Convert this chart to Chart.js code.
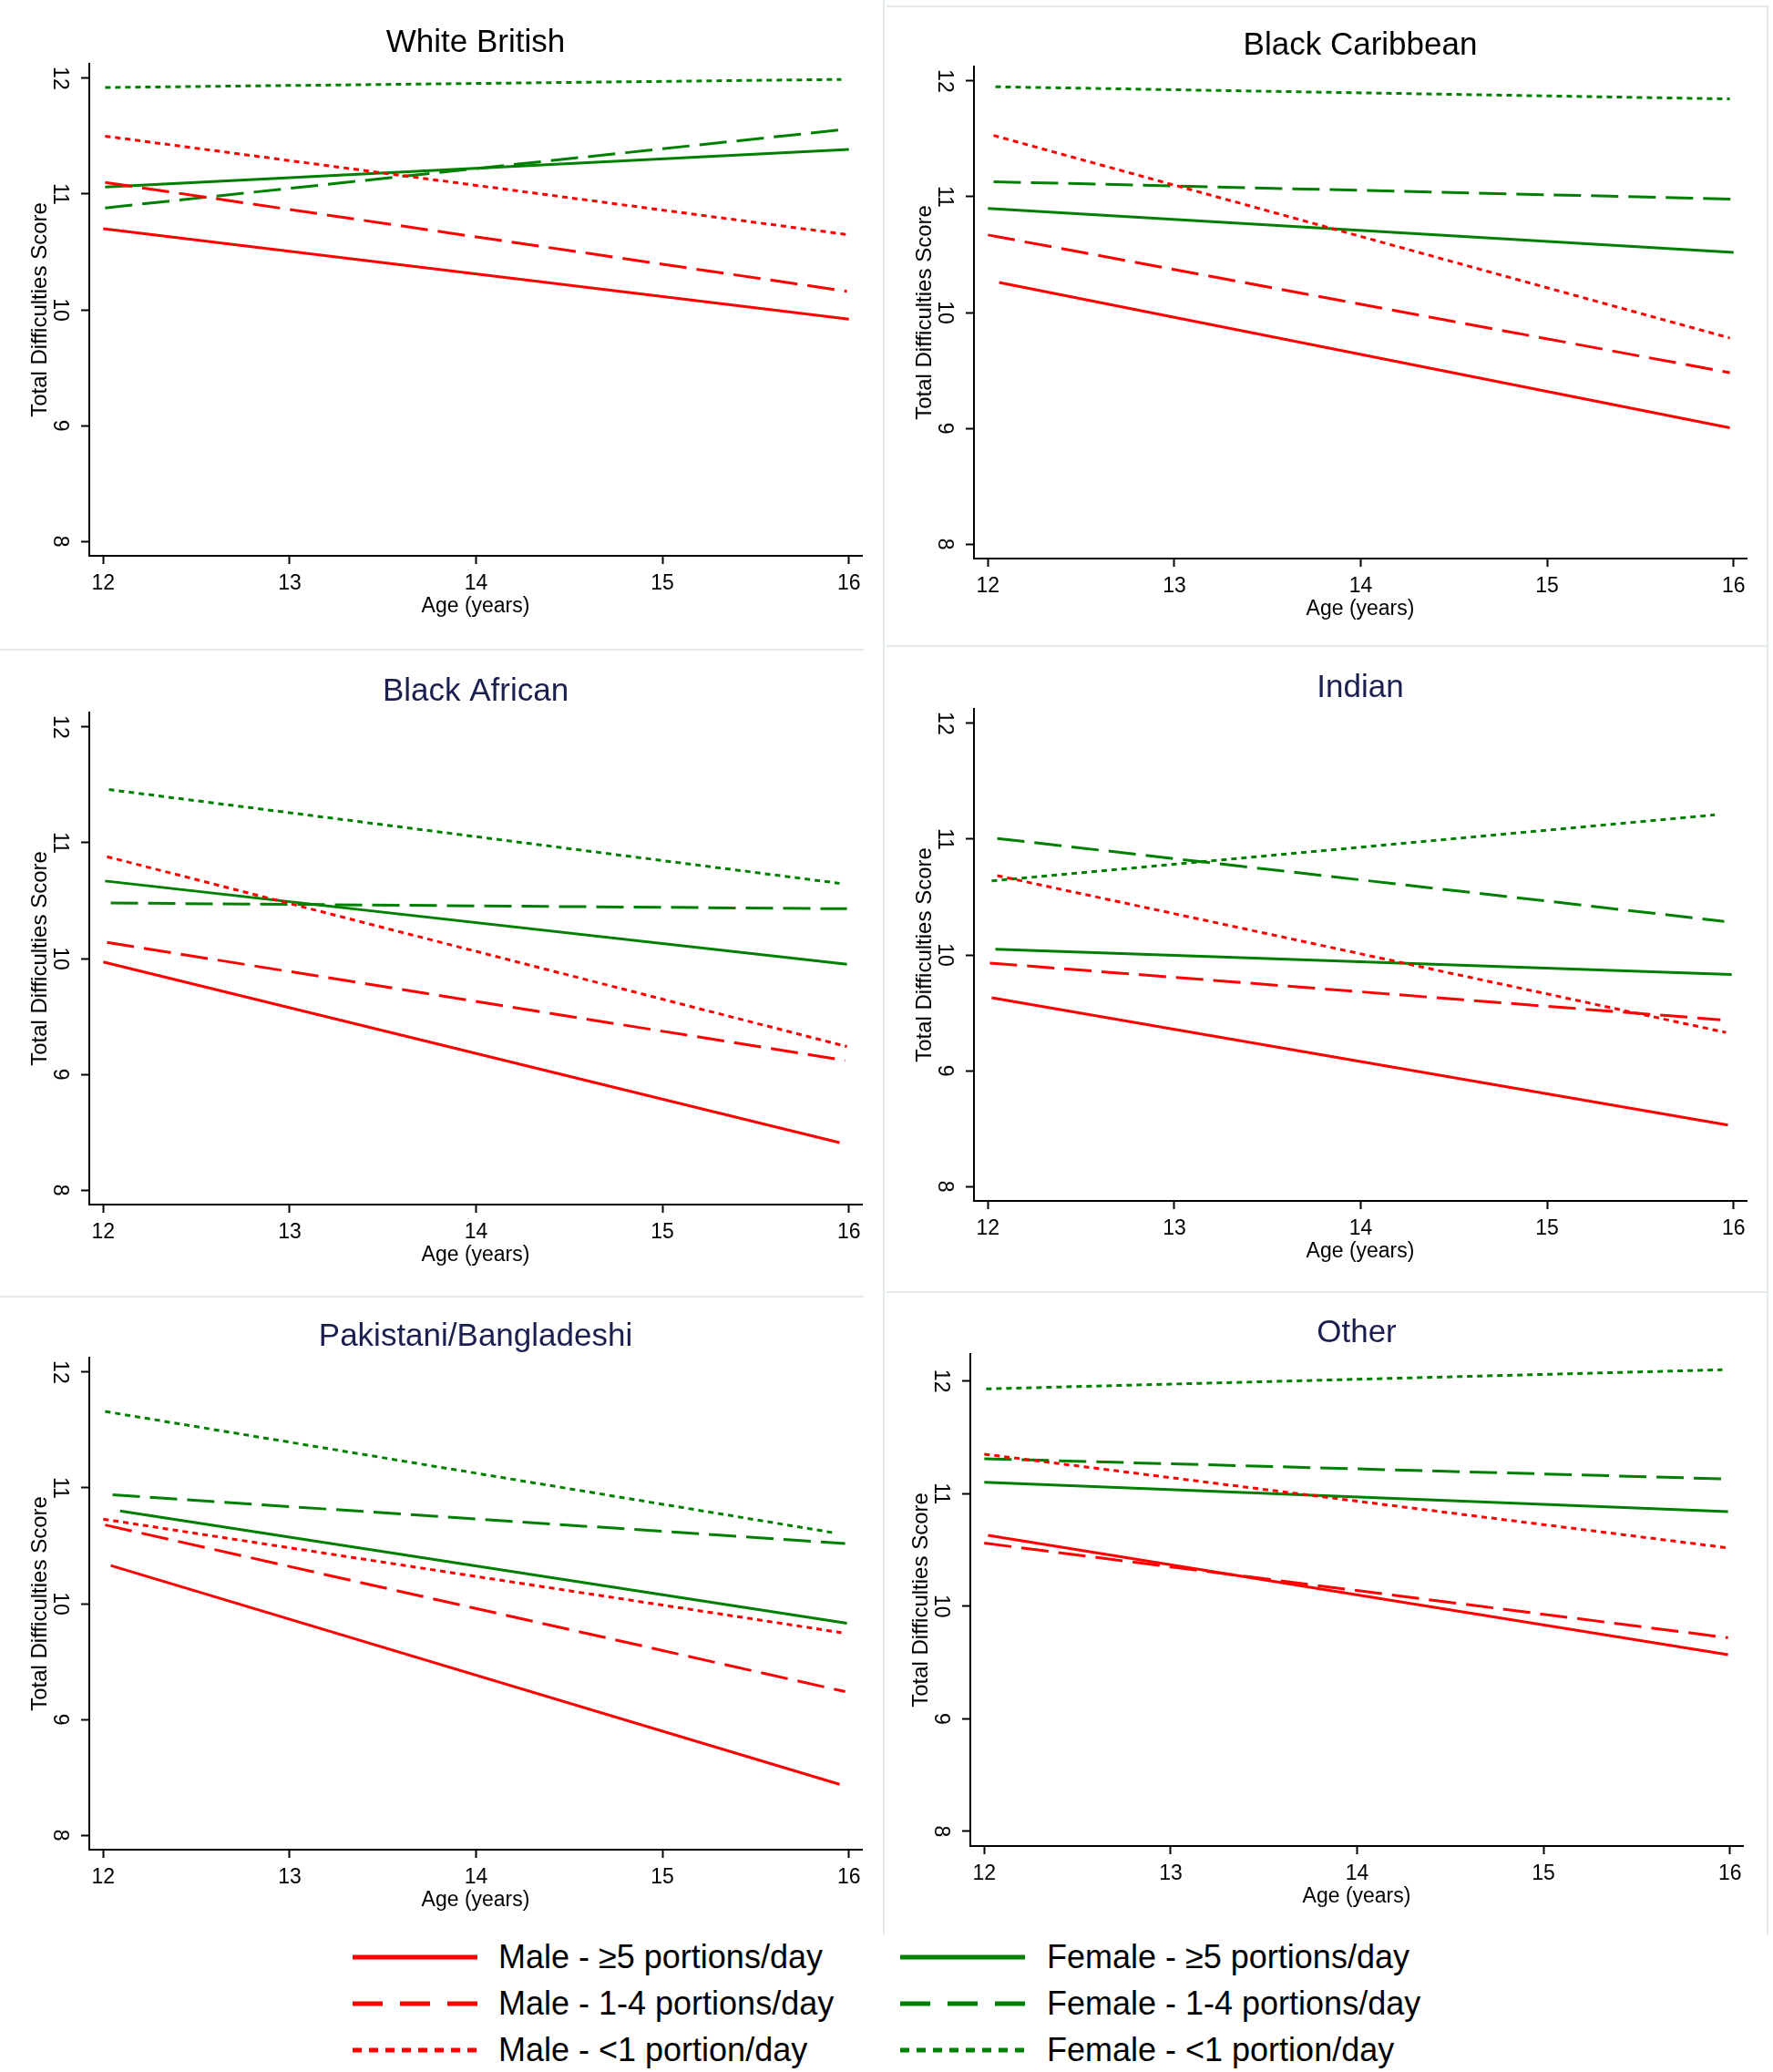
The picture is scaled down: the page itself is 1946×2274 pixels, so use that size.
<!DOCTYPE html>
<html>
<head>
<meta charset="utf-8">
<script src="https://cdn.jsdelivr.net/npm/chart.js@4.4.1/dist/chart.umd.min.js"></script>
<style>
  html, body { margin: 0; padding: 0; background: #ffffff; }
  #page { position: relative; width: 1946px; height: 2274px; background: #ffffff; overflow: hidden;
          font-family: 'Liberation Sans', Arial, Helvetica, sans-serif; }
  .panel { position: absolute; }
  .sep { position: absolute; background: #e3eceb; }
  .lg-text { position: absolute; font-size: 36px; line-height: 40px; height: 40px; color: #000; white-space: nowrap; }
  .lg-line { position: absolute; }
</style>
</head>
<body>
<div id="page"></div>
<script>
// ---------- DATA ----------
const panelTitles = ['White British', 'Black Caribbean', 'Black African', 'Indian', 'Pakistani/Bangladeshi', 'Other'];
const seriesNames = ['Male - ≥5 portions/day', 'Male - 1-4 portions/day', 'Male - <1 portion/day',
                     'Female - ≥5 portions/day', 'Female - 1-4 portions/day', 'Female - <1 portion/day'];
const xTickValues = [12, 13, 14, 15, 16];
const yTickValues = [8, 9, 10, 11, 12];
const xAxisTitle = 'Age (years)';
const yAxisTitle = 'Total Difficulties Score';

// Fitted lines: age where each line starts / ends and the score there (order = seriesNames)
const whiteBritishAgeFrom   = [12.00, 12.01, 12.01, 12.01, 12.01, 12.01];
const whiteBritishAgeTo     = [16.00, 15.99, 15.99, 16.00, 15.99, 15.96];
const whiteBritishScoreFrom = [10.70, 11.10, 11.50, 11.06, 10.88, 11.92];
const whiteBritishScoreTo   = [9.92, 10.16, 10.65, 11.385, 11.56, 11.99];

const blackCaribbeanAgeFrom   = [12.06, 12.00, 12.03, 12.00, 12.03, 12.04];
const blackCaribbeanAgeTo     = [15.98, 15.98, 15.98, 16.00, 15.99, 15.98];
const blackCaribbeanScoreFrom = [10.26, 10.67, 11.53, 10.90, 11.13, 11.95];
const blackCaribbeanScoreTo   = [9.005, 9.48, 9.78, 10.52, 10.98, 11.845];

const blackAfricanAgeFrom   = [12.00, 12.02, 12.02, 12.01, 12.04, 12.03];
const blackAfricanAgeTo     = [15.95, 15.98, 15.99, 15.99, 15.99, 15.95];
const blackAfricanScoreFrom = [9.97, 10.14, 10.88, 10.67, 10.48, 11.46];
const blackAfricanScoreTo   = [8.41, 9.12, 9.24, 9.95, 10.43, 10.65];

const indianAgeFrom   = [12.02, 12.01, 12.05, 12.04, 12.05, 12.02];
const indianAgeTo     = [15.97, 15.93, 15.96, 15.99, 15.95, 15.90];
const indianScoreFrom = [9.63, 9.93, 10.685, 10.05, 11.006, 10.64];
const indianScoreTo   = [8.53, 9.44, 9.33, 9.83, 10.29, 11.21];

const pakBangAgeFrom   = [12.04, 12.01, 12.00, 12.09, 12.05, 12.01];
const pakBangAgeTo     = [15.95, 15.98, 15.96, 15.99, 15.98, 15.91];
const pakBangScoreFrom = [10.33, 10.68, 10.73, 10.80, 10.94, 11.66];
const pakBangScoreTo   = [8.44, 9.24, 9.75, 9.83, 10.52, 10.615];

const otherAgeFrom   = [12.02, 12.00, 12.00, 12.00, 12.00, 12.01];
const otherAgeTo     = [15.99, 15.99, 15.98, 15.99, 15.99, 15.96];
const otherScoreFrom = [10.63, 10.56, 11.35, 11.10, 11.31, 11.93];
const otherScoreTo   = [9.57, 9.72, 10.52, 10.84, 11.13, 12.10];

const ageFromByPanel   = [whiteBritishAgeFrom, blackCaribbeanAgeFrom, blackAfricanAgeFrom, indianAgeFrom, pakBangAgeFrom, otherAgeFrom];
const ageToByPanel     = [whiteBritishAgeTo, blackCaribbeanAgeTo, blackAfricanAgeTo, indianAgeTo, pakBangAgeTo, otherAgeTo];
const scoreFromByPanel = [whiteBritishScoreFrom, blackCaribbeanScoreFrom, blackAfricanScoreFrom, indianScoreFrom, pakBangScoreFrom, otherScoreFrom];
const scoreToByPanel   = [whiteBritishScoreTo, blackCaribbeanScoreTo, blackAfricanScoreTo, indianScoreTo, pakBangScoreTo, otherScoreTo];

// Axis ranges per panel
const yMinByPanel = [7.875, 7.875, 7.875, 7.875, 7.875, 7.87];
const yMaxByPanel = [12.125, 12.125, 12.125, 12.125, 12.125, 12.24];
const xMin = 11.925, xMax = 16.07;

// ---------- LAYOUT / STYLE ----------
const FONT = "'Liberation Sans', Arial, Helvetica, sans-serif";
const plotOrigins = [[98, 70], [1069, 73], [98, 782], [1069, 778], [98, 1490], [1065, 1486]];
const PLOT_W = 848, PLOT_H = 540, Y_W = 98, TOP_H = 70, X_H = 80, RIGHT_PAD = 20;
const titleColors = ['#000000', '#000000', '#1b1f4f', '#1b1f4f', '#1b1f4f', '#1b1f4f'];
const RED = '#ff0000', GREEN = '#008000';
const seriesColors = [RED, RED, RED, GREEN, GREEN, GREEN];
const seriesDash = [[], [30, 11], [6, 5], [], [30, 11], [6, 5]];
const legendDash = [[], [33, 19], [10, 8], [], [33, 19], [10, 8]];

Chart.defaults.font.family = FONT;
Chart.defaults.color = '#000';

const page = document.getElementById('page');

// faint panel separators
[
  [969, 0, 2, 2123], [0, 712, 948, 2], [973, 708, 967, 2], [973, 6, 967, 2],
  [1939, 6, 2, 2117], [0, 1422, 948, 2], [973, 1417, 967, 2]
].forEach(([l, t, w, h]) => {
  const d = document.createElement('div');
  d.className = 'sep';
  d.style.left = l + 'px'; d.style.top = t + 'px'; d.style.width = w + 'px'; d.style.height = h + 'px';
  page.appendChild(d);
});

panelTitles.forEach((title, p) => {
  const [pl, pt] = plotOrigins[p];
  const cw = Y_W + PLOT_W + RIGHT_PAD, ch = TOP_H + PLOT_H + X_H;
  const wrap = document.createElement('div');
  wrap.className = 'panel';
  wrap.style.left = (pl - Y_W) + 'px';
  wrap.style.top = (pt - TOP_H) + 'px';
  wrap.style.width = cw + 'px';
  wrap.style.height = ch + 'px';
  const cv = document.createElement('canvas');
  cv.width = cw; cv.height = ch;
  cv.style.width = cw + 'px'; cv.style.height = ch + 'px';
  wrap.appendChild(cv);
  page.appendChild(wrap);

  const datasets = seriesNames.map((name, i) => ({
    label: name,
    data: [
      { x: ageFromByPanel[p][i], y: scoreFromByPanel[p][i] },
      { x: ageToByPanel[p][i], y: scoreToByPanel[p][i] }
    ],
    borderColor: seriesColors[i],
    backgroundColor: seriesColors[i],
    borderWidth: 3,
    borderDash: seriesDash[i],
    pointRadius: 0,
    fill: false,
    tension: 0
  }));

  const tickFont = { family: FONT, size: 23 };
  new Chart(cv, {
    type: 'line',
    data: { datasets },
    options: {
      responsive: false,
      animation: false,
      devicePixelRatio: 1,
      events: [],
      layout: { padding: { left: 0, right: RIGHT_PAD, top: 0, bottom: 0 } },
      plugins: {
        legend: { display: false },
        tooltip: { enabled: false },
        title: {
          display: true, text: title, color: titleColors[p], fullSize: false,
          font: { family: FONT, size: 35, weight: 'normal', lineHeight: 1.2 },
          padding: { top: 26.5, bottom: 1.5 }
        }
      },
      scales: {
        x: {
          type: 'linear', min: xMin, max: xMax,
          afterBuildTicks: s => { s.ticks = xTickValues.map(v => ({ value: v })); },
          afterFit: s => { s.height = X_H; },
          ticks: { font: tickFont, color: '#000', padding: 8, maxRotation: 0, autoSkip: false,
                   callback: v => String(v) },
          grid: { display: true, drawOnChartArea: false, drawTicks: true, tickLength: 9, tickWidth: 2, tickColor: '#000' },
          border: { display: true, color: '#000', width: 2 },
          title: { display: true, text: xAxisTitle, color: '#000', font: { family: FONT, size: 23, lineHeight: 1.2 },
                   padding: { top: 0, bottom: 10.2 } }
        },
        y: {
          type: 'linear', position: 'left', min: yMinByPanel[p], max: yMaxByPanel[p],
          afterBuildTicks: s => { s.ticks = yTickValues.map(v => ({ value: v })); },
          afterFit: s => { s.width = Y_W; },
          ticks: { font: tickFont, color: '#000', padding: 11, minRotation: -90, maxRotation: -90,
                   crossAlign: 'center', autoSkip: false, callback: v => String(v) },
          grid: { display: true, drawOnChartArea: false, drawTicks: true, tickLength: 9, tickWidth: 2, tickColor: '#000' },
          border: { display: true, color: '#000', width: 2 },
          title: { display: true, text: yAxisTitle, color: '#000', font: { family: FONT, size: 24, lineHeight: 1.2 },
                   padding: { top: 29.6, bottom: 0 } }
        }
      }
    }
  });
});

// ---------- shared legend ----------
const legendRowsY = [2148, 2199, 2250];
const legendCols = [{ lineX: 387, textX: 547 }, { lineX: 988, textX: 1149 }];
const LEG_LEN = 137;
seriesNames.forEach((name, i) => {
  const col = legendCols[i < 3 ? 0 : 1];
  const y = legendRowsY[i % 3];
  const svgNS = 'http://www.w3.org/2000/svg';
  const svg = document.createElementNS(svgNS, 'svg');
  svg.setAttribute('class', 'lg-line');
  svg.setAttribute('width', LEG_LEN);
  svg.setAttribute('height', 10);
  svg.style.left = col.lineX + 'px';
  svg.style.top = (y - 5) + 'px';
  const ln = document.createElementNS(svgNS, 'line');
  ln.setAttribute('x1', 0); ln.setAttribute('y1', 5);
  ln.setAttribute('x2', LEG_LEN); ln.setAttribute('y2', 5);
  ln.setAttribute('stroke', seriesColors[i]);
  ln.setAttribute('stroke-width', 5);
  if (legendDash[i].length) ln.setAttribute('stroke-dasharray', legendDash[i].join(' '));
  svg.appendChild(ln);
  page.appendChild(svg);
  const t = document.createElement('div');
  t.className = 'lg-text';
  t.style.left = col.textX + 'px';
  t.style.top = (y - 20) + 'px';
  t.textContent = name;
  page.appendChild(t);
});
</script>
</body>
</html>
